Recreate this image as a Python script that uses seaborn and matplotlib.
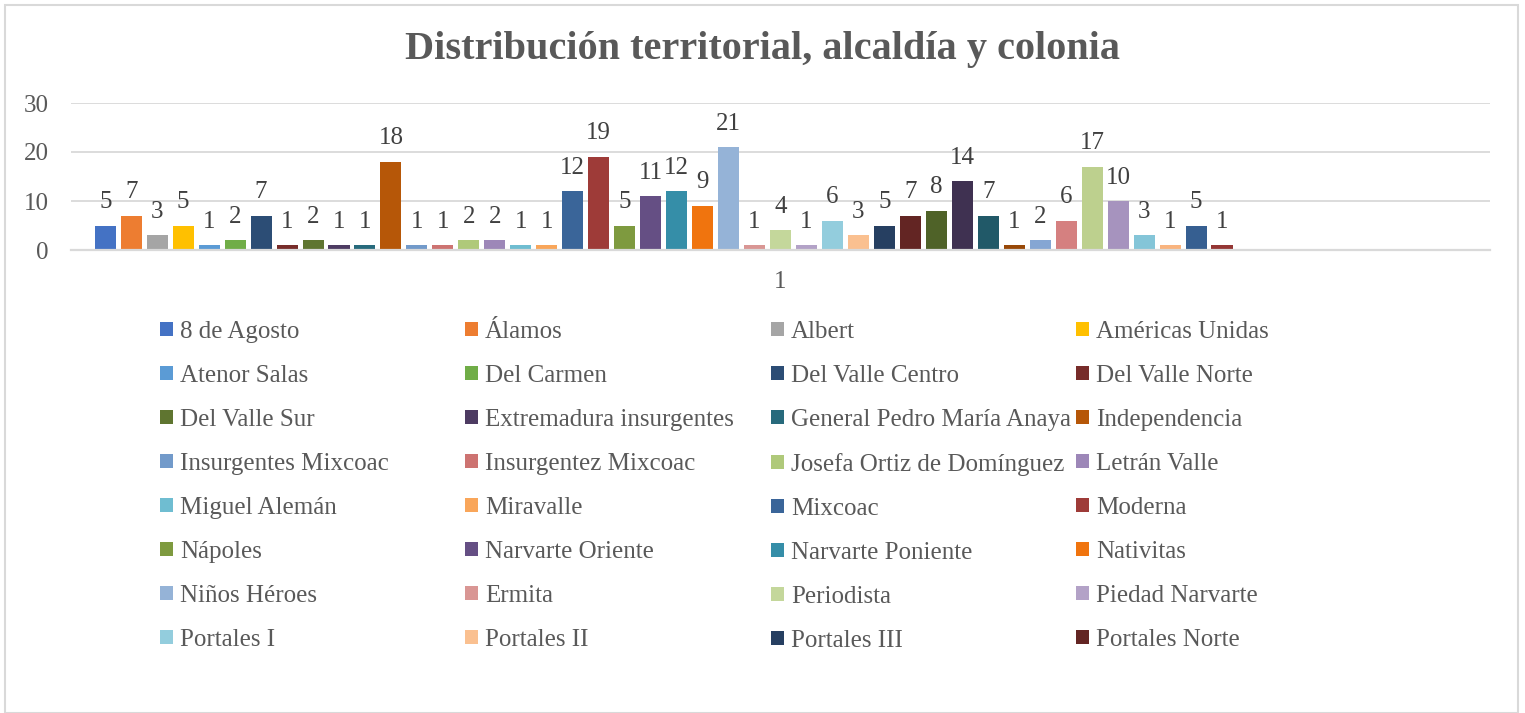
import numpy as np
import pandas as pd
import matplotlib.pyplot as plt
from matplotlib.patches import Rectangle, Patch
import seaborn as sns

titulo = "Distribución territorial, alcaldía y colonia"
categoria = "1"

# colonias que aparecen en la leyenda (Excel corta la leyenda en 32)
colonias = ["8 de Agosto", "Álamos", "Albert", "Américas Unidas",
            "Atenor Salas", "Del Carmen", "Del Valle Centro", "Del Valle Norte",
            "Del Valle Sur", "Extremadura insurgentes", "General Pedro María Anaya", "Independencia",
            "Insurgentes Mixcoac", "Insurgentez Mixcoac", "Josefa Ortiz de Domínguez", "Letrán Valle",
            "Miguel Alemán", "Miravalle", "Mixcoac", "Moderna",
            "Nápoles", "Narvarte Oriente", "Narvarte Poniente", "Nativitas",
            "Niños Héroes", "Ermita", "Periodista", "Piedad Narvarte",
            "Portales I", "Portales II", "Portales III", "Portales Norte"]

# valores de cada serie; las ultimas series no tienen dato (celdas vacias)
valores = [5, 7, 3, 5, 1, 2, 7, 1, 2, 1, 1, 18, 1, 1, 2, 2, 1, 1, 12, 19, 5, 11,
           12, 9, 21, 1, 4, 1, 6, 3, 5, 7, 8, 14, 7, 1, 2, 6, 17, 10, 3, 1, 5, 1,
           None, None, None, None, None, None, None, None, None]

colores = ["#4472C4", "#ED7D31", "#A5A5A5", "#FFC000", "#5B9BD5", "#70AD47",
           "#2C4D75", "#772C2A", "#5F7530", "#4D3B62", "#276A7C", "#B65708",
           "#729ACA", "#CD7371", "#AFC97A", "#9D87B8", "#6FBDD1", "#F9A65A",
           "#3A6599", "#9E3B38", "#7E9A3F", "#654F84", "#358EA8", "#F0740E",
           "#95B3D7", "#D99694", "#C4D79B", "#B3A2C7", "#93CDDD", "#FAC090",
           "#263F61", "#632523", "#4F6228", "#3F3151", "#215968", "#984807",
           "#85A6D3", "#D58080", "#BDD08E", "#A693BE", "#84C5D8", "#F9B47F",
           "#365F91", "#943634", "#4472C4", "#ED7D31", "#A5A5A5", "#FFC000",
           "#5B9BD5", "#70AD47", "#2C4D75", "#772C2A", "#5F7530"]

series = [f"s{i:02d}" for i in range(len(valores))]
df = pd.DataFrame({"categoria": categoria, "serie": series,
                   "valor": pd.to_numeric(pd.Series(valores), errors="coerce")})

plt.rcParams["font.family"] = ["Liberation Serif", "DejaVu Serif"]
gris = "#595959"

fig = plt.figure(figsize=(15.25, 7.13), dpi=100)
ax = fig.add_axes([71 / 1525, 1 - 250 / 713, (1490 - 71) / 1525, (250 - 103) / 713])

sns.barplot(data=df, x="categoria", y="valor", hue="serie", hue_order=series,
            palette=dict(zip(series, colores)), saturation=1, width=0.97, gap=0.19,
            errorbar=None, legend=False, ax=ax)

for cont in ax.containers:
    ax.bar_label(cont, fmt="%g", padding=9, fontsize=18, color="#404040")

ax.set_ylim(0, 30)
ax.set_yticks([0, 10, 20, 30])
ax.set_xlim(-0.5, 0.5)
ax.set_xlabel("")
ax.set_ylabel("")
ax.tick_params(axis="both", length=0, labelsize=18, labelcolor=gris)
ax.tick_params(axis="x", pad=15)
ax.tick_params(axis="y", pad=16)
ax.grid(axis="y", color="#D9D9D9", lw=1.3)
ax.set_axisbelow(True)
for s in ["left", "right", "top"]:
    ax.spines[s].set_visible(False)
ax.spines["bottom"].set_color("#D9D9D9")
ax.spines["bottom"].set_linewidth(1.6)

fig.text(0.5, 1 - 50 / 713, titulo, ha="center", va="center",
         fontsize=29, fontweight="bold", color=gris)

# leyenda en 4 columnas de ancho fijo, como en Excel
col_x = [160, 465, 771, 1076]
for c in range(4):
    idx = list(range(c, len(colonias), 4))
    handles = [Patch(facecolor=colores[i], edgecolor="none") for i in idx]
    leg = fig.legend(handles, [colonias[i] for i in idx], loc="upper left",
                     bbox_to_anchor=(col_x[c] / 1525, 1 - 321 / 713),
                     frameon=False, fontsize=18, handlelength=0.5, handleheight=0.5,
                     handletextpad=0.3, labelspacing=0.88, borderpad=0, borderaxespad=0)
    for t in leg.get_texts():
        t.set_color(gris)

fig.add_artist(Rectangle((5 / 1525, 0), (1518 - 5) / 1525, (708) / 713,
                         transform=fig.transFigure, fill=False, ec="#D9D9D9", lw=1.5))

fig.savefig("out.png", dpi=100)
